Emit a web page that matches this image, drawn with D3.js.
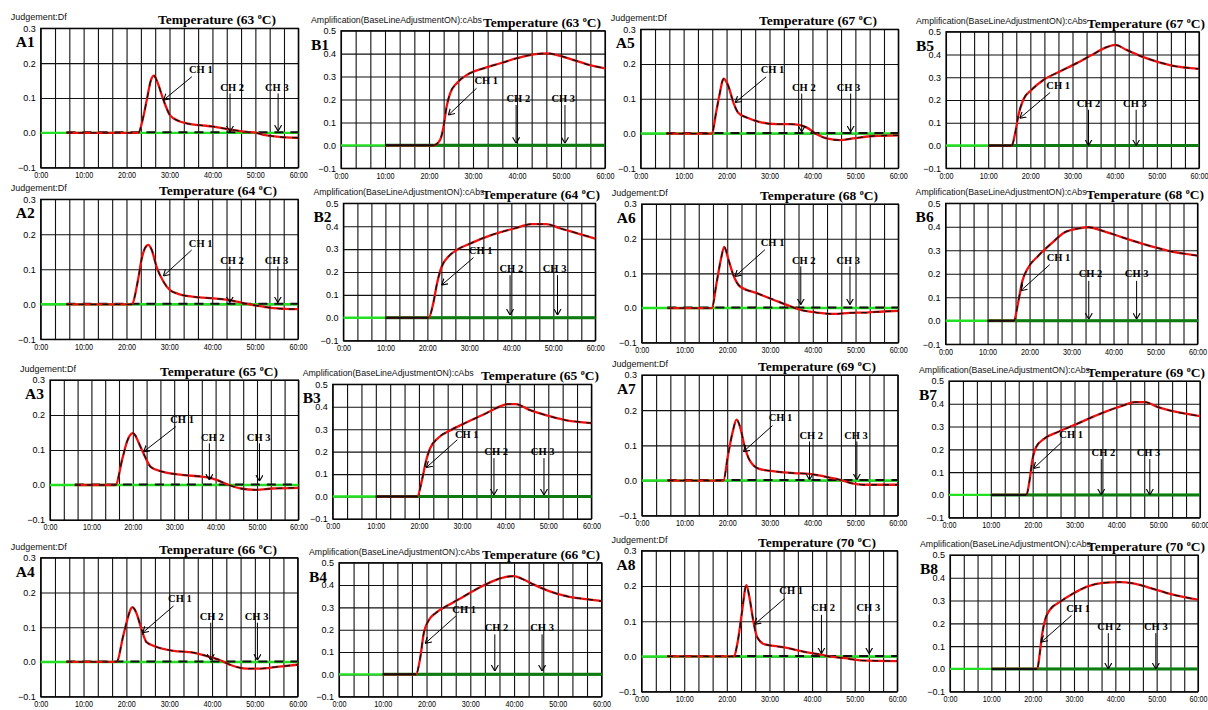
<!DOCTYPE html>
<html>
<head>
<meta charset="utf-8">
<script src="https://cdn.jsdelivr.net/npm/d3@7"></script>
<style>
  body { margin: 0; background: #fff; }
</style>
</head>
<body>
<script>
// ---- data ----
var panelIds = ["A1","A2","A3","A4","A5","A6","A7","A8","B1","B2","B3","B4","B5","B6","B7","B8"];
var temperatures = [63, 64, 65, 66, 67, 68, 69, 70, 63, 64, 65, 66, 67, 68, 69, 70];

var xTickValues = [0, 10, 20, 30, 40, 50, 60];
var yTicksA = [-0.1, 0, 0.1, 0.2, 0.3];
var yTicksB = [-0.1, 0, 0.1, 0.2, 0.3, 0.4, 0.5];
var gridTimes = d3.range(19).map(function(k) { return k * 10 / 3; });

// CH 1 curves, [minutes, value]
var curveA1 = [[6,0],[22.7,0],[23.9,0.046],[24.7,0.094],[25.7,0.152],[26.4,0.164],[27.1,0.148],[28.6,0.094],[30.1,0.051],[32,0.035],[34,0.027],[37,0.022],[40.2,0.018],[43,0.012],[45,0.008],[48,0.003],[50.3,0],[52,-0.006],[55,-0.011],[57,-0.013],[60,-0.014]];
var curveA2 = [[6,0],[21.2,0],[22.7,0.07],[23.5,0.127],[24.3,0.16],[25.1,0.17],[25.9,0.155],[27,0.108],[28.6,0.065],[30.1,0.041],[32,0.03],[34,0.024],[37,0.02],[40.2,0.017],[44.9,0.01],[47,0.004],[49.5,-0.002],[52,-0.007],[54.2,-0.011],[57,-0.013],[60,-0.014]];
var curveA3 = [[6,0],[15.8,0],[17.5,0.076],[18.6,0.124],[19.3,0.142],[20,0.148],[20.6,0.142],[21.3,0.124],[22.6,0.09],[24.3,0.052],[27.1,0.038],[31.9,0.029],[36.6,0.024],[38.5,0.021],[40.4,0.014],[43.2,0],[46.1,-0.01],[49.9,-0.014],[53.7,-0.01],[60,-0.008]];
var curveA4 = [[6,0],[17.7,0],[19.3,0.077],[20.5,0.134],[21,0.152],[21.4,0.158],[21.9,0.152],[22.4,0.139],[23.6,0.091],[24.7,0.057],[27.1,0.043],[31,0.032],[35.6,0.027],[38.8,0.017],[41.9,0.005],[44.2,-0.008],[48.1,-0.019],[51.2,-0.019],[55.1,-0.014],[60,-0.008]];
var curveA5 = [[6,0],[16.5,0],[17.7,0.07],[18.6,0.127],[19,0.15],[19.4,0.158],[19.9,0.15],[20.4,0.137],[21.6,0.089],[22.7,0.06],[24.7,0.046],[27.8,0.033],[31.7,0.027],[34.8,0.027],[37.1,0.024],[38.7,0.017],[41,-0.002],[43.3,-0.014],[46.4,-0.019],[49.5,-0.014],[54.2,-0.007],[60,-0.005]];
var curveA6 = [[6,0],[16.4,0],[17.5,0.072],[18.5,0.139],[19.3,0.176],[20.3,0.139],[21.4,0.096],[23,0.062],[26.9,0.043],[30.8,0.024],[34.7,0.005],[37,-0.005],[40.9,-0.013],[44.8,-0.017],[48.7,-0.014],[52.6,-0.013],[56.5,-0.01],[60,-0.008]];
var curveA7 = [[6,0],[19.1,0],[20.2,0.073],[21.3,0.139],[22.2,0.173],[23.1,0.149],[24,0.101],[25.2,0.059],[27.5,0.033],[31.1,0.026],[35.6,0.021],[39.3,0.019],[42.9,0.011],[46.5,0.002],[49.3,-0.008],[52,-0.012],[60,-0.012]];
var curveA8 = [[6,0],[21.6,0],[22.6,0.045],[23.5,0.121],[24.6,0.202],[25.3,0.168],[26.2,0.102],[27.1,0.055],[28.9,0.034],[32.1,0.028],[34.9,0.022],[38.5,0.012],[42.2,0.005],[44,0],[47.7,-0.005],[51.3,-0.011],[60,-0.013]];
var curveB1 = [[10,0],[21,0],[22.5,0.023],[23.3,0.081],[24,0.169],[24.8,0.227],[26.3,0.271],[28.6,0.307],[32.4,0.336],[36.2,0.358],[40,0.38],[43.8,0.397],[46.8,0.401],[49.1,0.394],[52.9,0.372],[56.6,0.35],[60,0.336]];
var curveB2 = [[10,0],[20.3,0],[21.4,0.063],[22.3,0.15],[23.4,0.223],[24.8,0.263],[26.9,0.295],[30.3,0.325],[35.2,0.361],[40.7,0.39],[44.8,0.409],[48.3,0.409],[51.7,0.39],[55.9,0.368],[60,0.346]];
var curveB3 = [[10,0],[19.6,0],[20.8,0.082],[21.7,0.163],[22.6,0.215],[24.4,0.26],[27.5,0.297],[31.1,0.331],[35.6,0.371],[38.3,0.397],[40.6,0.412],[42.4,0.412],[45.6,0.386],[49.2,0.364],[53.7,0.342],[60,0.327]];
var curveB4 = [[10,0],[17.6,0],[18.5,0.067],[19.4,0.187],[20.4,0.239],[22.2,0.276],[24.9,0.309],[28.4,0.348],[32,0.388],[35.6,0.421],[38.2,0.437],[40,0.44],[41.8,0.428],[44.4,0.403],[48,0.373],[52.4,0.348],[56.9,0.336],[60,0.328]];
var curveB5 = [[10,0],[15.6,0],[16.4,0.054],[17.2,0.135],[18.3,0.2],[20.3,0.245],[23.1,0.288],[27,0.325],[31,0.362],[34.9,0.401],[38.1,0.432],[40.1,0.442],[42.8,0.42],[46,0.394],[50,0.369],[53.9,0.35],[60,0.337]];
var curveB6 = [[10,0],[16.3,0],[17.2,0.071],[18.3,0.17],[19.7,0.227],[22.1,0.277],[25.5,0.334],[28.3,0.376],[31.7,0.393],[34.1,0.398],[37.2,0.384],[42.1,0.355],[47.6,0.324],[53.1,0.298],[60,0.277]];
var curveB7 = [[10,0],[18.5,0],[19.3,0.069],[19.9,0.15],[20.8,0.209],[22.7,0.246],[25.9,0.275],[30.6,0.312],[36.1,0.356],[41.7,0.393],[44.4,0.407],[46.8,0.407],[50,0.385],[54.6,0.363],[60,0.346]];
var curveB8 = [[10,0],[21.1,0],[21.7,0.066],[22.3,0.154],[23.1,0.221],[24.2,0.26],[26.6,0.294],[29.8,0.331],[33,0.36],[37,0.378],[41.1,0.381],[44.3,0.375],[48.3,0.356],[52.3,0.334],[56.4,0.316],[60,0.304]];
var curves = [curveA1, curveA2, curveA3, curveA4, curveA5, curveA6, curveA7, curveA8,
              curveB1, curveB2, curveB3, curveB4, curveB5, curveB6, curveB7, curveB8];

// CH 1 note: [text t, text v, tail t, tail v, tip t, tip v]
var noteCH1 = [
  [37.3,0.171,35.2,0.161,28.6,0.094], [37.3,0.165,35.2,0.155,28.6,0.081],
  [31.9,0.176,30.4,0.167,22.6,0.095], [32.5,0.172,31,0.161,23.8,0.084],
  [30.7,0.173,29.2,0.163,22,0.089],   [30.6,0.178,28.8,0.168,21.8,0.091],
  [32.5,0.168,30.6,0.156,23.8,0.082], [35.1,0.176,33.5,0.164,26.5,0.091],
  [33,0.267,30.8,0.249,24.4,0.132],   [32.7,0.278,31,0.263,23.4,0.143],
  [31.1,0.263,28.9,0.253,21.7,0.129], [28.6,0.273,26.7,0.261,19.7,0.139],
  [26.6,0.247,24.7,0.233,17.5,0.12],  [26.9,0.256,24.8,0.239,17.9,0.128],
  [29.2,0.249,26.9,0.231,20.2,0.116], [31,0.25,29.4,0.235,22.1,0.118]
];
// CH 2 / CH 3 notes: [text t, text v, arrow t, arrow top v, arrow tip v]
var noteCH2 = [
  [44.6,0.121,44.1,0.113,0.003], [44.6,0.115,44.1,0.108,0.005],
  [39.3,0.126,38.5,0.119,0.014], [39.9,0.12,39.7,0.113,0.005],
  [38,0.122,37.5,0.115,0.005],   [37.9,0.127,37.2,0.12,0.01],
  [39.7,0.118,39.3,0.111,0.002], [42.6,0.129,42.2,0.118,0.008],
  [40.3,0.19,39.8,0.176,0.009],  [40,0.2,39.7,0.186,0.012],
  [37.9,0.186,37.4,0.171,0.007], [36,0.194,35.6,0.179,0.015],
  [33.8,0.171,33.8,0.157,0.0],   [34.5,0.185,34.1,0.17,0.007],
  [36.9,0.172,36.4,0.157,0.0],   [38.5,0.172,38.3,0.157,0.0]
];
var noteCH3 = [
  [55,0.121,55.3,0.113,0.005],   [55,0.115,55.3,0.108,0.005],
  [50.4,0.126,50.6,0.119,0.011], [50.4,0.12,50.6,0.113,0.005],
  [48.4,0.122,48.9,0.115,0.005], [48.3,0.127,48.7,0.12,0.01],
  [50.2,0.118,50.4,0.111,0.002], [53.2,0.129,53.4,0.118,0.008],
  [50.5,0.19,50.9,0.176,0.009],  [50.3,0.2,51,0.186,0.012],
  [48.7,0.186,49,0.171,0.007],   [46.4,0.194,46.4,0.179,0.015],
  [44.8,0.171,45.1,0.157,0.0],   [45.5,0.185,45.5,0.17,0.007],
  [47.7,0.172,48,0.157,0.0],     [49.8,0.172,49.8,0.157,0.0]
];

// ---- layout: plot box [left, right, top, bottom] and title right end ----
var layout = [
  [40.7, 298.3, 28.3, 167.7, 276], [40.7, 298, 199.3, 339.3, 277], [50, 298.4, 380, 520, 278], [40.7, 297.7, 557.7, 696.7, 277],
  [640.7, 898.3, 29.3, 168.3, 877], [641.7, 898.3, 204, 342.7, 878], [641.9, 897.8, 375, 515.7, 876], [641.6, 897.3, 550.7, 691.7, 876],
  [341, 605, 30.7, 168.3, 601], [343.4, 595.3, 203.3, 340.7, 600], [332.7, 591.4, 384.3, 519, 599], [339, 601.6, 562.7, 696.7, 600],
  [946, 1199, 31.7, 168.3, 1205], [945.6, 1197.5, 203.3, 344.3, 1204], [949, 1200, 381, 517.7, 1205], [950, 1198, 555, 691.7, 1205]
];

var sansFont = "'Liberation Sans', Arial, sans-serif";
var serifFont = "'Liberation Serif', 'Times New Roman', serif";

var svg = d3.select("body")
  .append("svg")
  .attr("width", 1208)
  .attr("height", 710)
  .style("background", "#fff");

svg.append("defs").append("marker")
  .attr("id", "openArrow")
  .attr("viewBox", "0 0 6 8")
  .attr("refX", 6)
  .attr("refY", 4)
  .attr("markerWidth", 6)
  .attr("markerHeight", 8)
  .attr("markerUnits", "userSpaceOnUse")
  .attr("orient", "auto")
  .append("path")
  .attr("d", "M0,0.5 L6,4 L0,7.5")
  .attr("fill", "none")
  .attr("stroke", "#000")
  .attr("stroke-width", 1.1);

panelIds.forEach(function(id, i) {
  var box = layout[i];
  var isA = id[0] === "A";
  var w = box[1] - box[0], h = box[3] - box[2];

  var x = d3.scaleLinear().domain([0, 60]).range([box[0], box[1]]);
  var y = d3.scaleLinear().domain(isA ? [-0.1, 0.3] : [-0.1, 0.5]).range([box[3], box[2]]);
  var yTicks = isA ? yTicksA : yTicksB;

  var g = svg.append("g");

  // grid lines
  var vGrid = g.append("g")
    .attr("transform", "translate(0," + box[3] + ")")
    .call(d3.axisBottom(x).tickValues(gridTimes).tickSize(-h).tickFormat(""));
  var hGrid = g.append("g")
    .attr("transform", "translate(" + box[0] + ",0)")
    .call(d3.axisLeft(y).tickValues(yTicks).tickSize(-w).tickFormat(""));
  [vGrid, hGrid].forEach(function(a) {
    a.select(".domain").remove();
    a.selectAll("line").attr("stroke", "#111").attr("stroke-width", 1.1);
  });

  g.append("rect")
    .attr("x", box[0]).attr("y", box[2])
    .attr("width", w).attr("height", h)
    .attr("fill", "none")
    .attr("stroke", "#000")
    .attr("stroke-width", 1.2);

  // tick labels
  var yAxis = g.append("g")
    .attr("transform", "translate(" + box[0] + ",0)")
    .call(d3.axisLeft(y).tickValues(yTicks).tickSize(0).tickPadding(5).tickFormat(d3.format(".1f")));
  var xAxis = g.append("g")
    .attr("transform", "translate(0," + box[3] + ")")
    .call(d3.axisBottom(x).tickValues(xTickValues).tickSize(0).tickPadding(4)
      .tickFormat(function(d) { return d + ":00"; }));
  [yAxis, xAxis].forEach(function(a) {
    a.select(".domain").remove();
    a.attr("font-family", sansFont).attr("font-size", 9);
    a.selectAll("text").attr("fill", "#000");
  });
  xAxis.selectAll("text")
    .attr("textLength", function(d) { return d === 0 ? 14 : 18; })
    .attr("lengthAdjust", "spacingAndGlyphs");

  // zero lines of CH 2 / CH 3
  g.append("line")
    .attr("x1", x(0)).attr("x2", x(60))
    .attr("y1", y(0)).attr("y2", y(0))
    .attr("stroke", "#22e022").attr("stroke-width", 2.4);
  if (isA) {
    g.append("line")
      .attr("x1", x(6)).attr("x2", x(60))
      .attr("y1", y(0) - 0.5).attr("y2", y(0) - 0.5)
      .attr("stroke", "#111").attr("stroke-width", 2)
      .attr("stroke-dasharray", "9,7");
  } else {
    g.append("line")
      .attr("x1", x(10)).attr("x2", x(60))
      .attr("y1", y(0)).attr("y2", y(0))
      .attr("stroke", "#0f7a12").attr("stroke-width", 3);
  }

  // CH 1 curve: red with black dashed replicate on top
  var data = curves[i];
  var path = d3.line()
    .x(function(d) { return x(d[0]); })
    .y(function(d) { return y(d[1]); })
    .curve(d3.curveMonotoneX);
  g.append("path")
    .attr("d", path(data))
    .attr("fill", "none")
    .attr("stroke", "#f01010")
    .attr("stroke-width", 2.3);
  g.append("path")
    .attr("d", path(data))
    .attr("fill", "none")
    .attr("stroke", "#111")
    .attr("stroke-width", 1.3)
    .attr("stroke-dasharray", "6,6");
  if (!isA) {
    g.append("line")
      .attr("x1", x(data[0][0])).attr("x2", x(data[1][0]))
      .attr("y1", y(0)).attr("y2", y(0))
      .attr("stroke", "#111").attr("stroke-width", 2);
  }

  // annotations
  var n1 = noteCH1[i];
  g.append("line")
    .attr("x1", x(n1[2])).attr("y1", y(n1[3]))
    .attr("x2", x(n1[4])).attr("y2", y(n1[5]))
    .attr("stroke", "#000").attr("stroke-width", 1)
    .attr("marker-end", "url(#openArrow)");
  g.append("text")
    .attr("x", x(n1[0])).attr("y", y(n1[1]))
    .attr("text-anchor", "middle")
    .attr("font-family", serifFont).attr("font-weight", "bold").attr("font-size", 10.5)
    .text("CH 1");

  [[noteCH2[i], "CH 2"], [noteCH3[i], "CH 3"]].forEach(function(pair) {
    var n = pair[0];
    g.append("line")
      .attr("x1", x(n[2])).attr("y1", y(n[3]))
      .attr("x2", x(n[2])).attr("y2", y(n[4]))
      .attr("stroke", "#000").attr("stroke-width", 1)
      .attr("marker-end", "url(#openArrow)");
    g.append("text")
      .attr("x", x(n[0])).attr("y", y(n[1]))
      .attr("text-anchor", "middle")
      .attr("font-family", serifFont).attr("font-weight", "bold").attr("font-size", 10.5)
      .text(pair[1]);
  });

  // axis title, panel title, panel label
  g.append("text")
    .attr("x", box[0] - 30).attr("y", box[2] - 8)
    .attr("font-family", sansFont).attr("font-size", 9)
    .attr("textLength", isA ? 56 : 171)
    .attr("lengthAdjust", "spacingAndGlyphs")
    .attr("fill", "#111")
    .text(isA ? "Judgement:Df" : "Amplification(BaseLineAdjustmentON):cAbs");

  var title = g.append("text")
    .attr("x", box[4]).attr("y", box[2] - 4)
    .attr("text-anchor", "end")
    .attr("font-family", serifFont).attr("font-weight", "bold").attr("font-size", 13.5)
    .attr("fill", "#000");
  title.append("tspan").text("Temperature (" + temperatures[i] + " ");
  title.append("tspan").attr("font-size", 8).attr("dy", -5).text("o");
  title.append("tspan").attr("dy", 5).text("C)");

  g.append("text")
    .attr("x", box[0] - (isA ? 25 : 30)).attr("y", box[2] + 19)
    .attr("font-family", serifFont).attr("font-weight", "bold").attr("font-size", 15.5)
    .attr("fill", "#000")
    .text(id);
});
</script>
</body>
</html>
